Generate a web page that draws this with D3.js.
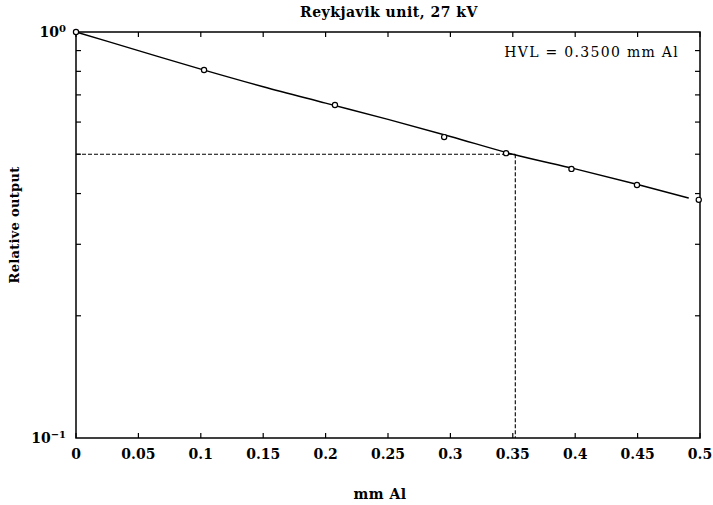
<!DOCTYPE html>
<html>
<head>
<meta charset="utf-8">
<script src="https://cdn.jsdelivr.net/npm/d3@7"></script>
<style>
  html, body { margin: 0; padding: 0; background: #fff; }
  svg { display: block; }
  text { font-family: "DejaVu Serif", "Liberation Serif", serif; fill: #000; }
</style>
</head>
<body>
<svg id="chart" width="713" height="505"></svg>
<script>
// ---- data ----
const thickness = [0, 0.1026, 0.2075, 0.295, 0.3446, 0.397, 0.4495, 0.499];
const relOutput = [1.0, 0.806, 0.661, 0.551, 0.503, 0.460, 0.420, 0.386];
const fitX = [0, 0.05, 0.1, 0.15, 0.2, 0.25, 0.3, 0.35, 0.4, 0.45, 0.491];
const fitY = [1.0, 0.900, 0.810, 0.733, 0.668, 0.609, 0.553, 0.500, 0.460, 0.421, 0.390];
const hvl = 0.352;
const hvlLabel = "HVL = 0.3500 mm Al";
const xTicks = [0, 0.05, 0.1, 0.15, 0.2, 0.25, 0.3, 0.35, 0.4, 0.45, 0.5];
const yMinorTicks = [0.2, 0.3, 0.4, 0.5, 0.6, 0.7, 0.8, 0.9];
const yMajorTicks = [0.1, 1];
const title = "Reykjavik unit, 27 kV";
const xLabel = "mm Al";
const yLabel = "Relative output";

// ---- layout ----
const svg = d3.select("#chart");
const L = 76, R = 700, T = 32, B = 438;
const x = d3.scaleLinear().domain([0, 0.5]).range([L, R]);
const y = d3.scaleLog().domain([0.1, 1]).range([B, T]);

// frame
svg.append("rect").attr("x", L).attr("y", T).attr("width", R - L).attr("height", B - T)
  .attr("fill", "none").attr("stroke", "#000").attr("stroke-width", 1.5);

// x ticks (inward, top and bottom)
const tickLen = 5;
xTicks.forEach(t => {
  svg.append("line").attr("x1", x(t)).attr("x2", x(t)).attr("y1", B).attr("y2", B - tickLen)
    .attr("stroke", "#000").attr("stroke-width", 1.2);
  svg.append("line").attr("x1", x(t)).attr("x2", x(t)).attr("y1", T).attr("y2", T + tickLen)
    .attr("stroke", "#000").attr("stroke-width", 1.2);
  svg.append("text").attr("x", x(t)).attr("y", 459).attr("text-anchor", "middle")
    .attr("font-size", 14).attr("font-weight", "bold").text(d3.format("")(t));
});

// y minor ticks (left & right, inward)
yMinorTicks.forEach(t => {
  svg.append("line").attr("x1", L).attr("x2", L + tickLen).attr("y1", y(t)).attr("y2", y(t))
    .attr("stroke", "#000").attr("stroke-width", 1.2);
  svg.append("line").attr("x1", R).attr("x2", R - tickLen).attr("y1", y(t)).attr("y2", y(t))
    .attr("stroke", "#000").attr("stroke-width", 1.2);
});

// y major labels 10^0, 10^-1
yMajorTicks.forEach(t => {
  const exp = Math.round(Math.log10(t));
  const tx = svg.append("text").attr("x", 66).attr("y", y(t) + 5).attr("text-anchor", "end")
    .attr("font-size", 14).attr("font-weight", "bold");
  tx.append("tspan").text("10");
  tx.append("tspan").attr("dy", -5).attr("font-size", 10).text(exp === 0 ? "0" : "\u22121");
});

// dashed HVL guides
svg.append("line").attr("x1", L).attr("x2", x(hvl)).attr("y1", y(0.5)).attr("y2", y(0.5))
  .attr("stroke", "#000").attr("stroke-width", 1.1).attr("stroke-dasharray", "4,2");
svg.append("line").attr("x1", x(hvl)).attr("x2", x(hvl)).attr("y1", y(0.5)).attr("y2", B)
  .attr("stroke", "#000").attr("stroke-width", 1.1).attr("stroke-dasharray", "4,2");

// fit curve
const line = d3.line().x((d, i) => x(fitX[i])).y((d, i) => y(fitY[i])).curve(d3.curveMonotoneX);
svg.append("path").datum(fitX).attr("d", line).attr("fill", "none")
  .attr("stroke", "#000").attr("stroke-width", 1.4);

// data points
svg.selectAll("circle.pt").data(thickness).enter().append("circle")
  .attr("class", "pt").attr("cx", d => x(d)).attr("cy", (d, i) => y(relOutput[i]))
  .attr("r", 2.6).attr("fill", "#fff").attr("stroke", "#000").attr("stroke-width", 1.2);

// texts
svg.append("text").attr("x", 389).attr("y", 17).attr("text-anchor", "middle")
  .attr("font-size", 14).attr("font-weight", "bold").attr("letter-spacing", 0.5).text(title);
svg.append("text").attr("x", 679).attr("y", 57).attr("text-anchor", "end")
  .attr("font-size", 14).attr("letter-spacing", 1.3).text(hvlLabel);
svg.append("text").attr("x", 380).attr("y", 499).attr("text-anchor", "middle")
  .attr("font-size", 14).attr("font-weight", "bold").attr("letter-spacing", 0.5).text(xLabel);
svg.append("text").attr("transform", "translate(19,225) rotate(-90)").attr("text-anchor", "middle")
  .attr("font-size", 13).attr("font-weight", "bold").attr("letter-spacing", 0.3).text(yLabel);
</script>
</body>
</html>
